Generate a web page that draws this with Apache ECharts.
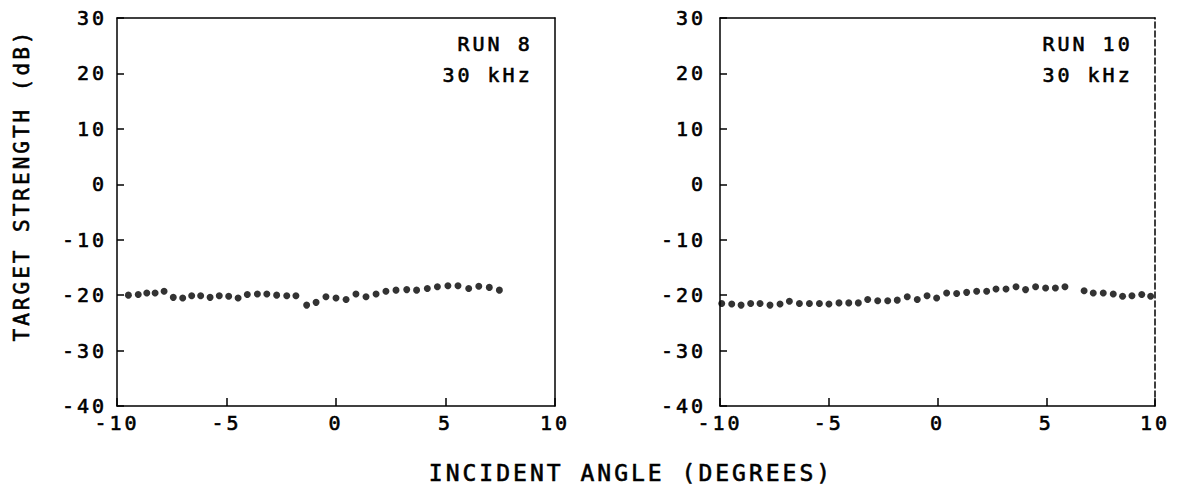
<!DOCTYPE html>
<html>
<head>
<meta charset="utf-8">
<script src="https://cdn.jsdelivr.net/npm/echarts@6/dist/echarts.min.js"></script>
<style>
  html, body { margin: 0; padding: 0; background: #fff; }
  #chart { width: 1179px; height: 489px; }
  /* plotter lettering is widely spaced */
  #chart text { letter-spacing: 3px; }
</style>
</head>
<body>
<div id="chart"></div>
<script>
// incident angle (degrees) and target strength (dB)
const run8Angle = [-9.48, -9.03, -8.64, -8.26, -7.85, -7.43, -7.0, -6.59, -6.18, -5.75,
  -5.33, -4.9, -4.47, -4.05, -3.59, -3.16, -2.71, -2.25, -1.83, -1.34,
  -0.91, -0.46, 0.0, 0.46, 0.91, 1.37, 1.83, 2.28, 2.74, 3.23,
  3.68, 4.17, 4.63, 5.11, 5.57, 6.06, 6.52, 7.0, 7.46]
const run8Strength = [-20.0, -19.9, -19.6, -19.6, -19.3, -20.4, -20.5, -20.1, -20.1, -20.4,
  -20.1, -20.2, -20.5, -19.9, -19.8, -19.8, -20.0, -20.1, -20.1, -21.8,
  -21.3, -20.3, -20.5, -20.8, -19.8, -20.3, -19.8, -19.3, -19.1, -19.0,
  -19.1, -18.8, -18.5, -18.3, -18.3, -18.8, -18.4, -18.6, -19.1]

const run10Angle = [-9.92, -9.46, -9.03, -8.59, -8.16, -7.7, -7.24, -6.81, -6.35, -5.89,
  -5.43, -4.99, -4.53, -4.08, -3.64, -3.21, -2.75, -2.29, -1.85, -1.39,
  -0.93, -0.48, -0.04, 0.42, 0.88, 1.34, 1.8, 2.26, 2.69, 3.15,
  3.61, 4.05, 4.51, 4.97, 5.42, 5.86, 6.74, 7.16, 7.62, 8.08,
  8.51, 8.94, 9.39, 9.8]
const run10Strength = [-21.5, -21.6, -21.8, -21.5, -21.5, -21.8, -21.6, -21.1, -21.5, -21.5,
  -21.5, -21.6, -21.4, -21.4, -21.4, -20.8, -21.0, -21.0, -20.9, -20.3,
  -20.8, -20.1, -20.5, -19.6, -19.7, -19.5, -19.3, -19.3, -18.9, -18.9,
  -18.5, -19.0, -18.5, -18.7, -18.7, -18.5, -19.2, -19.6, -19.6, -19.8,
  -20.2, -20.1, -19.9, -20.2]

const angleTicks = [-10, -5, 0, 5, 10]
const strengthTicks = [-40, -30, -20, -10, 0, 10, 20, 30]
const panelNotes = [['RUN 8', '30 kHz'], ['RUN 10', '30 kHz']]

const FONT = '"DejaVu Sans Mono", monospace'
const INK = '#000'

const chart = echarts.init(document.getElementById('chart'), null, { renderer: 'svg' })

const grids = [
  { left: 117, top: 18, width: 438, height: 388 },
  { left: 720, top: 18, width: 435, height: 388 },
]

function pair(xs, ys) {
  return xs.map((x, i) => [x, ys[i]])
}

// thin outline thickens the strokes a little, like the pen plotter
const labelStyle = {
  color: INK, fontFamily: FONT, fontSize: 20, textBorderColor: INK, textBorderWidth: 0.6,
}

const xAxes = []
const yAxes = []
grids.forEach((g, i) => {
  // bottom axis with labels
  xAxes.push({
    gridIndex: i,
    type: 'value',
    min: angleTicks[0],
    max: angleTicks[angleTicks.length - 1],
    interval: 5,
    axisLine: { show: true, onZero: false, lineStyle: { color: INK, width: 1.5 } },
    axisTick: { show: true, inside: true, length: 8, lineStyle: { color: INK, width: 1.5 } },
    axisLabel: Object.assign({ margin: 7 }, labelStyle),
    splitLine: { show: false },
  })
  // top frame edge
  xAxes.push({
    gridIndex: i,
    type: 'value',
    position: 'top',
    min: -10,
    max: 10,
    axisLine: { show: true, onZero: false, lineStyle: { color: INK, width: 1.5 } },
    axisTick: { show: false },
    axisLabel: { show: false },
    splitLine: { show: false },
  })
  yAxes.push({
    gridIndex: i,
    type: 'value',
    min: strengthTicks[0],
    max: strengthTicks[strengthTicks.length - 1],
    interval: 10,
    axisLine: { show: true, onZero: false, lineStyle: { color: INK, width: 1.5 } },
    axisTick: { show: true, inside: true, length: 7, lineStyle: { color: INK, width: 1.5 } },
    axisLabel: Object.assign({ margin: i === 0 ? 10 : 14 }, labelStyle),
    splitLine: { show: false },
  })
  // right frame edge, broken on the second panel
  yAxes.push({
    gridIndex: i,
    type: 'value',
    position: 'right',
    min: -40,
    max: 30,
    axisLine: {
      show: true,
      onZero: false,
      lineStyle: { color: INK, width: 1.5, type: i === 0 ? 'solid' : [6, 3] },
    },
    axisTick: { show: false },
    axisLabel: { show: false },
    splitLine: { show: false },
  })
})

const notes = []
panelNotes.forEach((lines, i) => {
  const g = grids[i]
  lines.forEach((t, j) => {
    notes.push({
      type: 'text',
      right: 1179 - (g.left + g.width) + 22,
      top: 34 + j * 31,
      style: {
        text: t, fill: INK, font: '20px ' + FONT, textAlign: 'right',
        stroke: INK, lineWidth: 0.6,
      },
    })
  })
})

const option = {
  backgroundColor: '#fff',
  animation: false,
  grid: grids,
  xAxis: xAxes,
  yAxis: yAxes,
  series: [
    {
      type: 'scatter',
      xAxisIndex: 0,
      yAxisIndex: 0,
      symbolSize: 7,
      itemStyle: { color: INK },
      data: pair(run8Angle, run8Strength),
    },
    {
      type: 'scatter',
      xAxisIndex: 2,
      yAxisIndex: 2,
      symbolSize: 7,
      itemStyle: { color: INK },
      data: pair(run10Angle, run10Strength),
    },
  ],
  graphic: notes.concat([
    {
      type: 'text',
      x: 631,
      y: 461,
      style: {
        text: 'INCIDENT ANGLE (DEGREES)', fill: INK, font: '23px ' + FONT,
        textAlign: 'center', stroke: INK, lineWidth: 0.6,
      },
    },
    {
      type: 'text',
      x: 22,
      y: 185,
      rotation: Math.PI / 2,
      style: {
        text: 'TARGET STRENGTH (dB)',
        fill: INK,
        font: '21px ' + FONT,
        textAlign: 'center',
        textVerticalAlign: 'middle',
        stroke: INK,
        lineWidth: 0.6,
      },
    },
  ]),
}

chart.setOption(option)
</script>
</body>
</html>
